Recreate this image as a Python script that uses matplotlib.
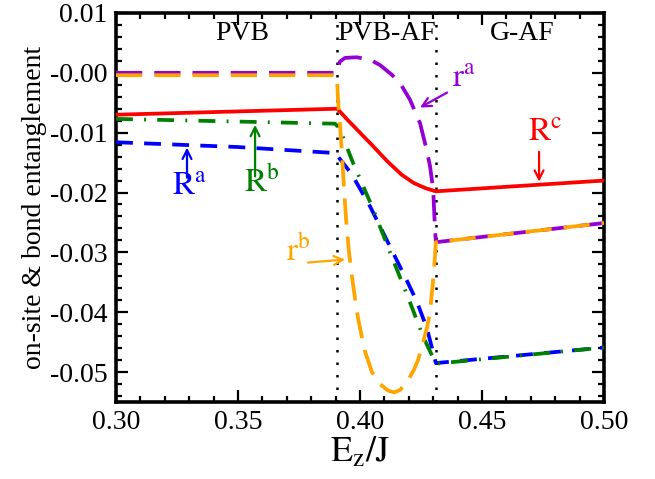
import matplotlib
matplotlib.use('Agg')
import matplotlib.pyplot as plt
from matplotlib.ticker import MultipleLocator, FormatStrFormatter

plt.rcParams['font.family'] = ['Liberation Serif', 'DejaVu Serif']
plt.rcParams['mathtext.fontset'] = 'stix'
plt.rcParams['axes.unicode_minus'] = False

# phase boundaries
x_b1 = 0.3907
x_b2 = 0.4311

# R^c (red, solid)
xc = [0.30, 0.3907, 0.395, 0.400, 0.405, 0.411, 0.417, 0.422, 0.427, 0.4311, 0.50]
yc = [-0.0070, -0.0060, -0.0079, -0.0100, -0.0121, -0.0147, -0.0170, -0.0184, -0.0193, -0.0198, -0.0180]

# R^a (blue, dashed)
xa = [0.30, 0.35, 0.3898, 0.3939, 0.3967, 0.4041, 0.4135, 0.4193, 0.4234, 0.4275, 0.4311, 0.50]
ya = [-0.0116, -0.0124, -0.0134, -0.0155, -0.0170, -0.0223, -0.0300, -0.0348, -0.0383, -0.0428, -0.0485, -0.0459]

# R^b (green, dash-dot)
xb = [0.30, 0.3898, 0.3907, 0.3926, 0.3971, 0.4049, 0.4131, 0.4197, 0.4258, 0.4311, 0.50]
yb = [-0.0077, -0.0085, -0.0089, -0.0103, -0.0150, -0.0223, -0.0308, -0.0375, -0.0440, -0.0486, -0.0459]

# r^a (purple, dashed)
xra = [0.30, 0.3906, 0.3911, 0.3918, 0.3939, 0.3986, 0.4041, 0.4082, 0.4130, 0.4164, 0.4205,
       0.4246, 0.4273, 0.4287, 0.4300, 0.4307, 0.4311, 0.50]
yra = [0.0, 0.0, 0.00105, 0.0019, 0.0025, 0.0026, 0.0022, 0.0013, -0.0003, -0.0017, -0.0045,
       -0.0084, -0.0128, -0.0156, -0.0195, -0.0258, -0.0283, -0.0251]

# r^b (orange, dashed)
xrb = [0.30, 0.3905, 0.3906, 0.3910, 0.3918, 0.3926, 0.3934, 0.3943, 0.3955, 0.3967, 0.3980,
       0.3992, 0.4008, 0.4020, 0.4049, 0.4082, 0.4115, 0.4140, 0.4164, 0.4193, 0.4220, 0.4238,
       0.4254, 0.4275, 0.4287, 0.4299, 0.4305, 0.4311, 0.50]
yrb = [-0.0004, -0.0004, -0.0010, -0.0045, -0.0087, -0.0133, -0.0190, -0.0245, -0.0300, -0.0340, -0.0378,
       -0.0410, -0.0442, -0.0465, -0.0500, -0.0520, -0.0531, -0.0534, -0.0530, -0.0517, -0.0497, -0.0480,
       -0.0457, -0.0425, -0.0400, -0.0350, -0.0320, -0.0283, -0.0251]

fig = plt.figure(figsize=(6.55, 4.79), dpi=100)
ax = fig.add_subplot(111)
fig.subplots_adjust(left=0.1771, right=0.9221, top=0.9729, bottom=0.1608)

lw = 2.7
ax.plot(xc, yc, color='red', lw=lw, zorder=3)
ax.plot(xa, ya, color='blue', lw=lw, dashes=(4.5, 3), zorder=3)
ax.plot(xb, yb, color='green', lw=lw, dashes=(4.5, 3, 0.5, 3), zorder=3)
ax.plot(xra, yra, color='darkviolet', lw=lw, dashes=(7, 3.2), zorder=3)
ax.plot(xrb, yrb, color='orange', lw=lw, dashes=(7, 3.2), zorder=4)

for xv in (x_b1, x_b2):
    ax.axvline(xv, color='black', lw=1.8, dashes=(1, 4), zorder=2)

ax.set_xlim(0.30, 0.50)
ax.set_ylim(-0.055, 0.01)
ax.xaxis.set_major_locator(MultipleLocator(0.05))
ax.xaxis.set_minor_locator(MultipleLocator(0.01))
ax.yaxis.set_major_locator(MultipleLocator(0.01))
ax.yaxis.set_minor_locator(MultipleLocator(0.002))
ax.xaxis.set_major_formatter(FormatStrFormatter('%.2f'))
ax.yaxis.set_major_formatter(FormatStrFormatter('%.2f'))
ax.tick_params(which='both', direction='in', top=True, right=True, labelsize=20, width=1.6)
ax.tick_params(which='major', length=8.5, pad=6)
ax.tick_params(which='minor', length=4.5)
for s in ax.spines.values():
    s.set_linewidth(2.6)

ax.set_xlabel(r'$\mathrm{E_z/J}$', fontsize=26, labelpad=0)
ax.set_ylabel('on-site & bond entanglement', fontsize=20, labelpad=2)

# phase labels
ax.text(0.3516, 0.0066, 'PVB', fontsize=20, ha='center', va='center')
ax.text(0.4110, 0.0066, 'PVB-AF', fontsize=20, ha='center', va='center')
ax.text(0.4664, 0.0066, 'G-AF', fontsize=20, ha='center', va='center')

def label(txt, color, tx, ty, tail, tip):
    ax.annotate('', xy=tip, xytext=tail,
                arrowprops=dict(arrowstyle='->', color=color, lw=1.6,
                                mutation_scale=16, shrinkA=0, shrinkB=0))
    ax.text(tx, ty, txt, color=color, fontsize=24, ha='center', va='top')

label(r'$\mathrm{R}^{\mathrm{a}}$', 'blue', 0.3303, -0.0164, (0.3291, -0.0175), (0.3291, -0.0125))
label(r'$\mathrm{R}^{\mathrm{b}}$', 'green', 0.3598, -0.0156, (0.3570, -0.0173), (0.3570, -0.0087))
label(r'$\mathrm{r}^{\mathrm{a}}$', 'darkviolet', 0.4426, 0.0017, (0.4357, -0.0033), (0.4246, -0.0058))
label(r'$\mathrm{R}^{\mathrm{c}}$', 'red', 0.4758, -0.0074, (0.4734, -0.0132), (0.4734, -0.0182))
label(r'$\mathrm{r}^{\mathrm{b}}$', 'orange', 0.3746, -0.0271, (0.3787, -0.0317), (0.3939, -0.0312))

fig.savefig('out.png', dpi=100)
